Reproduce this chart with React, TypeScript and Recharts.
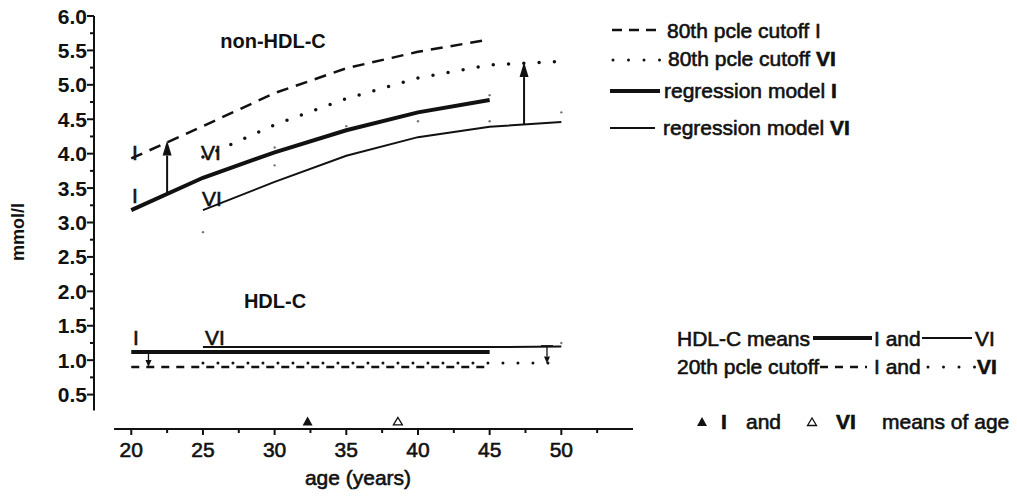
import React from 'react';
import { ComposedChart, Line, Scatter, XAxis, YAxis, ReferenceLine } from 'recharts';

// ages at which the models are given
const ages = [20, 25, 30, 35, 40, 45, 50];

// non-HDL-C (mmol/l)
const nonHdlCut80I = [3.93, 4.4, 4.88, 5.24, 5.48, 5.66, null];
const nonHdlCut80VI = [null, 3.95, 4.42, 4.8, 5.1, 5.29, 5.34];
const nonHdlRegI = [3.18, 3.65, 4.02, 4.34, 4.6, 4.78, null];
const nonHdlRegVI = [null, 3.18, 3.59, 3.97, 4.24, 4.39, 4.46];

// HDL-C (mmol/l)
const hdlMeanI = [1.12, 1.12, 1.12, 1.12, 1.12, 1.12, null];
const hdlMeanVI = [null, 1.19, 1.19, 1.19, 1.19, 1.19, 1.2];
const hdlCut20I = [0.9, 0.9, 0.9, 0.9, 0.9, 0.9, null];
const hdlCut20VI = [null, 0.96, 0.96, 0.96, 0.96, 0.96, 0.96];

// means of age (I filled, VI open)
const ageMeans = [
  { age: 32.3, v: 0.11, filled: true },
  { age: 38.6, v: 0.11, filled: false },
];

// faint marks left in the figure
const faintDots = [
  { age: 25, v: 2.86 },
  { age: 30, v: 4.09 },
  { age: 30, v: 3.83 },
  { age: 35, v: 4.4 },
  { age: 40, v: 4.47 },
  { age: 45, v: 4.85 },
  { age: 45, v: 4.47 },
  { age: 50, v: 4.6 },
  { age: 50, v: 1.25 },
];

// gap arrows
const upArrows = [
  { age: 22.5, from: 3.42, to: 4.19 },
  { age: 47.4, from: 4.42, to: 5.33 },
];
const downArrows = [
  { age: 21.2, from: 1.12, to: 0.9, cap: false },
  { age: 49.0, from: 1.21, to: 0.95, cap: true },
];

const xTicks = [20, 22.5, 25, 27.5, 30, 32.5, 35, 37.5, 40, 42.5, 45, 47.5, 50, 52.5];
const yTicks = [0.5, 0.75, 1, 1.25, 1.5, 1.75, 2, 2.25, 2.5, 2.75, 3, 3.25, 3.5, 3.75, 4, 4.25, 4.5, 4.75, 5, 5.25, 5.5, 5.75, 6];

const X_MIN = 17.4;
const X_MAX = 55;

const rows = ages.map((age, i) => ({
  age,
  cut80I: nonHdlCut80I[i],
  cut80VI: nonHdlCut80VI[i],
  regI: nonHdlRegI[i],
  regVI: nonHdlRegVI[i],
  hdlI: hdlMeanI[i],
  hdlVI: hdlMeanVI[i],
  cut20I: hdlCut20I[i],
  cut20VI: hdlCut20VI[i],
}));

const INK = '#111';
const FONT = '"Liberation Sans", Arial, sans-serif';
// the scanned figure has heavy text, so regular text gets a thin outline
const HEAVY = { stroke: INK, strokeWidth: 0.6 };

const XTick = (props: any) => {
  const { x, y, payload } = props;
  const v = payload.value;
  const major = v % 5 === 0;
  return (
    <g>
      <line x1={x} y1={y} x2={x} y2={y + (major ? 6 : 4)} stroke={INK} strokeWidth={2} />
      {major && (
        <text x={x} y={y + 28} textAnchor="middle" fontSize={21} fill={INK} fontFamily={FONT} {...HEAVY}>
          {v}
        </text>
      )}
    </g>
  );
};

const YTick = (props: any) => {
  const { x, y, payload } = props;
  const v = payload.value;
  const major = Math.abs(v * 2 - Math.round(v * 2)) < 1e-6;
  return (
    <g>
      <line x1={x - (major ? 7 : 4)} y1={y} x2={x} y2={y} stroke={INK} strokeWidth={2} />
      {major && (
        <text x={x - 7} y={y + 7.5} textAnchor="end" fontSize={21} fontWeight="bold" fill={INK} fontFamily={FONT}>
          {v.toFixed(1)}
        </text>
      )}
    </g>
  );
};

const arrow = (head: number, width: number, sw: number, cap = false) => (p: any) => {
  const { x1, y1, x2, y2 } = p;
  const dir = y2 < y1 ? -1 : 1;
  const baseY = y2 - dir * head;
  return (
    <g>
      <line x1={x1} y1={y1} x2={x2} y2={baseY} stroke={INK} strokeWidth={sw} />
      <polygon points={`${x2},${y2} ${x2 - width / 2},${baseY} ${x2 + width / 2},${baseY}`} fill={INK} />
      {cap && <line x1={x1 - 6} y1={y1} x2={x1 + 6} y2={y1} stroke={INK} strokeWidth={1.2} />}
    </g>
  );
};

const Triangle = (p: any) => {
  const { cx, cy, payload } = p;
  if (payload.filled) {
    return <polygon points={`${cx},${cy - 5} ${cx - 5},${cy + 4} ${cx + 5},${cy + 4}`} fill={INK} />;
  }
  return <polygon points={`${cx},${cy - 4} ${cx - 4.5},${cy + 3.5} ${cx + 4.5},${cy + 3.5}`} fill="#fff" stroke={INK} strokeWidth={1.3} />;
};

const Faint = (p: any) => <circle cx={p.cx} cy={p.cy} r={1.2} fill="#777" />;

const T = (props: any) => <text fontFamily={FONT} fontSize={21} fill={INK} {...HEAVY} {...props} />;

function Overlay() {
  return (
    <svg width={1017} height={497} style={{ position: 'absolute', left: 0, top: 0, pointerEvents: 'none' }}>
      {/* y label */}
      <text x={24} y={232} transform="rotate(-90 24 232)" textAnchor="middle" fontFamily={FONT} fontSize={18} fontWeight="bold" fill={INK}>
        mmol/l
      </text>
      <T x={358} y={485} textAnchor="middle">age (years)</T>

      {/* panel titles and line tags */}
      <T x={273} y={48} textAnchor="middle" fontWeight="bold" fontSize={20} strokeWidth={0}>non-HDL-C</T>
      <T x={275} y={308} textAnchor="middle" fontWeight="bold" fontSize={20} strokeWidth={0}>HDL-C</T>
      <T x={132} y={160}>I</T>
      <T x={132} y={203}>I</T>
      <T x={201} y={160}>VI</T>
      <T x={202} y={206}>VI</T>
      <T x={133} y={345}>I</T>
      <T x={205} y={345}>VI</T>

      {/* legend, non-HDL-C */}
      <line x1={612} y1={30} x2={660} y2={30} stroke={INK} strokeWidth={2.5} strokeDasharray="10 7" />
      <T x={667} y={37.5}>80th pcle cutoff I</T>
      <line x1={613} y1={60} x2={660} y2={60} stroke={INK} strokeWidth={3} strokeLinecap="round" strokeDasharray="0 15.5" />
      <T x={668} y={66}>80th pcle cutoff <tspan fontWeight="bold">VI</tspan></T>
      <line x1={610} y1={91} x2={660} y2={91} stroke={INK} strokeWidth={4} />
      <T x={664} y={97.5}>regression model <tspan fontWeight="bold">I</tspan></T>
      <line x1={610} y1={128} x2={655} y2={128} stroke={INK} strokeWidth={2} />
      <T x={663} y={135}>regression model <tspan fontWeight="bold">VI</tspan></T>

      {/* legend, HDL-C */}
      <T x={677} y={346}>HDL-C means</T>
      <line x1={813} y1={338} x2={872} y2={338} stroke={INK} strokeWidth={4} />
      <T x={874} y={346}>I and</T>
      <line x1={922} y1={338} x2={972} y2={338} stroke={INK} strokeWidth={2} />
      <T x={975} y={346}>VI</T>
      <T x={677} y={374}>20th pcle cutoff</T>
      <line x1={820} y1={367} x2={867} y2={367} stroke={INK} strokeWidth={2.5} strokeDasharray="8 7" />
      <T x={874} y={374}>I and</T>
      <line x1={928} y1={367} x2={975} y2={367} stroke={INK} strokeWidth={3} strokeLinecap="round" strokeDasharray="0 15.5" />
      <T x={977} y={374} fontWeight="bold">VI</T>

      {/* legend, age means */}
      <polygon points="702,417 697,426 707,426" fill={INK} />
      <T x={721} y={429} fontWeight="bold">I</T>
      <T x={746} y={429}>and</T>
      <polygon points="812,418 807.5,425.5 816.5,425.5" fill="#fff" stroke={INK} strokeWidth={1.3} />
      <T x={836} y={429} fontWeight="bold">VI</T>
      <T x={882} y={429}>means of age</T>
    </svg>
  );
}

export default function App() {
  return (
    <div style={{ position: 'absolute', left: 0, top: 0, width: 1017, height: 497, background: '#fff' }}>
      <ComposedChart width={1017} height={497} data={rows} margin={{ top: 16, right: 384, bottom: 0, left: 0 }}>
        <XAxis
          type="number"
          dataKey="age"
          domain={[X_MIN, X_MAX]}
          ticks={xTicks}
          interval={0}
          allowDataOverflow
          axisLine={false}
          tickLine={false}
          tickSize={0}
          tickMargin={0}
          height={68}
          tick={<XTick />}
        />
        <YAxis
          type="number"
          domain={[0, 6]}
          ticks={yTicks}
          interval={0}
          allowDataOverflow
          axisLine={false}
          tickLine={false}
          tickSize={0}
          tickMargin={0}
          width={94}
          tick={<YTick />}
        />

        {/* axis lines as drawn in the figure */}
        <ReferenceLine segment={[{ x: X_MIN, y: 0.27 }, { x: X_MIN, y: 6 }]} stroke={INK} strokeWidth={2} ifOverflow="visible" />
        <ReferenceLine segment={[{ x: 18.8, y: 0 }, { x: X_MAX, y: 0 }]} stroke={INK} strokeWidth={2} ifOverflow="visible" />

        <Line dataKey="cut80I" stroke={INK} strokeWidth={2.5} strokeDasharray="12 8" dot={false} isAnimationActive={false} type="linear" />
        <Line dataKey="cut80VI" stroke={INK} strokeWidth={3.5} strokeLinecap="round" strokeDasharray="0 15.3" dot={false} isAnimationActive={false} type="linear" />
        <Line dataKey="regI" stroke={INK} strokeWidth={4} dot={false} isAnimationActive={false} type="linear" />
        <Line dataKey="regVI" stroke={INK} strokeWidth={2} dot={false} isAnimationActive={false} type="linear" />
        <Line dataKey="hdlI" stroke={INK} strokeWidth={4} dot={false} isAnimationActive={false} type="linear" />
        <Line dataKey="hdlVI" stroke={INK} strokeWidth={2} dot={false} isAnimationActive={false} type="linear" />
        <Line dataKey="cut20I" stroke={INK} strokeWidth={2.5} strokeDasharray="8 7" dot={false} isAnimationActive={false} type="linear" />
        <Line dataKey="cut20VI" stroke={INK} strokeWidth={3} strokeLinecap="round" strokeDasharray="0 15" dot={false} isAnimationActive={false} type="linear" />

        {upArrows.map((a, i) => (
          <ReferenceLine key={'u' + i} segment={[{ x: a.age, y: a.from }, { x: a.age, y: a.to }]} ifOverflow="visible" shape={arrow(15, 9, 2)} />
        ))}
        {downArrows.map((a, i) => (
          <ReferenceLine key={'d' + i} segment={[{ x: a.age, y: a.from }, { x: a.age, y: a.to }]} ifOverflow="visible" shape={arrow(7, 6, 1.3, a.cap)} />
        ))}

        <Scatter data={faintDots} dataKey="v" shape={<Faint />} isAnimationActive={false} />
        <Scatter data={ageMeans} dataKey="v" shape={<Triangle />} isAnimationActive={false} />
      </ComposedChart>
      <Overlay />
    </div>
  );
}
